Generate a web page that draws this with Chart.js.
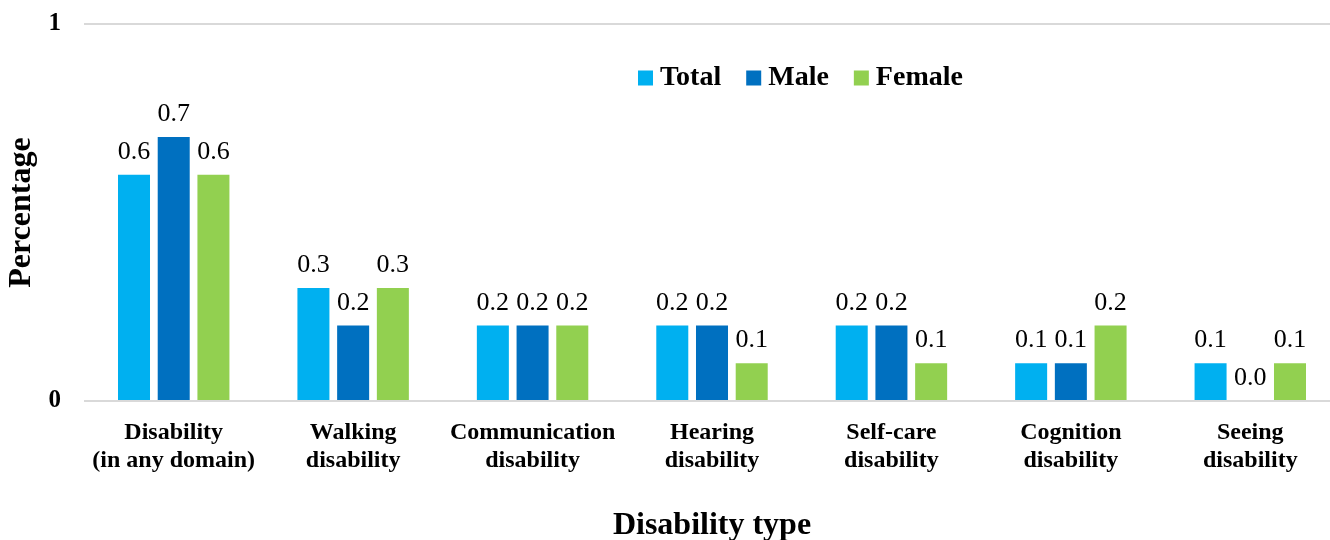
<!DOCTYPE html>
<html lang="en">
<head>
    <meta charset="UTF-8">
    <script src="https://cdn.jsdelivr.net/npm/chart.js"></script>
    <title>Disability type</title>
    <style>
        body { margin: 0; background: #fff; }
    </style>
</head>
<body>
    <canvas id="myChart" width="1330" height="540"></canvas>
    <script>
        const categories = [
            ['Disability', '(in any domain)'],
            ['Walking', 'disability'],
            ['Communication', 'disability'],
            ['Hearing', 'disability'],
            ['Self-care', 'disability'],
            ['Cognition', 'disability'],
            ['Seeing', 'disability']
        ];
        const totalValues = [0.6, 0.3, 0.2, 0.2, 0.2, 0.1, 0.1];
        const maleValues = [0.7, 0.2, 0.2, 0.2, 0.2, 0.1, 0.0];
        const femaleValues = [0.6, 0.3, 0.2, 0.1, 0.1, 0.2, 0.1];
        const yTicks = [0, 1];

        const serif = '"Liberation Serif", "Times New Roman", serif';

        // the original plot runs a little past the right edge of the picture
        const widenPlot = {
            id: 'widenPlot',
            afterLayout(chart) {
                const extra = 10;
                const x = chart.scales.x;
                x.right += extra;
                x.width += extra;
                x.configure();
                chart.chartArea.right += extra;
                chart.chartArea.width += extra;
            }
        };

        // value labels above bars
        const valueLabels = {
            id: 'valueLabels',
            afterDatasetsDraw(chart) {
                const ctx = chart.ctx;
                ctx.save();
                ctx.font = '26px ' + serif;
                ctx.fillStyle = '#000';
                ctx.textAlign = 'center';
                ctx.textBaseline = 'alphabetic';
                chart.data.datasets.forEach((ds, i) => {
                    chart.getDatasetMeta(i).data.forEach((bar, j) => {
                        ctx.fillText(ds.data[j].toFixed(1), bar.x, bar.y - 16);
                    });
                });
                ctx.restore();
            }
        };

        // legend placed like the original (inside the plot, right of centre)
        const customLegend = {
            id: 'customLegend',
            afterDraw(chart) {
                const ctx = chart.ctx;
                ctx.save();
                ctx.font = 'bold 28px ' + serif;
                ctx.textBaseline = 'middle';
                let x = 638;
                const y = 78;
                chart.data.datasets.forEach(ds => {
                    ctx.fillStyle = ds.backgroundColor;
                    ctx.fillRect(x, y - 7.5, 15, 15);
                    x += 22;
                    ctx.fillStyle = '#000';
                    ctx.fillText(ds.label, x, y);
                    x += ctx.measureText(ds.label).width + 25;
                });
                ctx.restore();
            }
        };

        const config = {
            type: 'bar',
            data: {
                labels: categories,
                datasets: [{
                    label: 'Total',
                    data: totalValues,
                    backgroundColor: '#00B0F0'
                }, {
                    label: 'Male',
                    data: maleValues,
                    backgroundColor: '#0070C0'
                }, {
                    label: 'Female',
                    data: femaleValues,
                    backgroundColor: '#92D050'
                }]
            },
            options: {
                responsive: false,
                animation: false,
                categoryPercentage: 0.664,
                barPercentage: 0.806,
                layout: {
                    padding: { top: 24, right: 0, left: 0, bottom: 0 }
                },
                plugins: {
                    legend: { display: false },
                    tooltip: { enabled: false }
                },
                scales: {
                    x: {
                        grid: { display: false, drawTicks: false },
                        border: { display: false },
                        ticks: {
                            color: '#000',
                            padding: 18,
                            maxRotation: 0,
                            autoSkip: false,
                            font: { family: serif, size: 24, weight: 'bold', lineHeight: 1.15 }
                        },
                        title: {
                            display: true,
                            text: 'Disability type',
                            color: '#000',
                            font: { family: serif, size: 32, weight: 'bold', lineHeight: 0.9 },
                            padding: { top: 0, bottom: 0 }
                        },
                        afterFit: (scale) => { scale.height = 139; }
                    },
                    y: {
                        min: 0,
                        max: 1,
                        afterBuildTicks: (scale) => {
                            scale.ticks = yTicks.map(v => ({ value: v }));
                        },
                        grid: { color: '#d9d9d9', lineWidth: 2, drawTicks: false },
                        border: { display: false },
                        ticks: {
                            color: '#000',
                            padding: 23,
                            font: { family: serif, size: 25, weight: 'bold' }
                        },
                        title: {
                            display: true,
                            text: 'Percentage',
                            color: '#000',
                            font: { family: serif, size: 32, weight: 'bold', lineHeight: 1.2 },
                            padding: { top: 3, bottom: 0 }
                        },
                        afterFit: (scale) => {
                            scale.width = 84;
                            scale.paddingTop = 0;
                            scale.paddingBottom = 0;
                        }
                    }
                }
            },
            plugins: [widenPlot, valueLabels, customLegend]
        };

        const myChart = new Chart(document.getElementById('myChart'), config);
    </script>
</body>
</html>
